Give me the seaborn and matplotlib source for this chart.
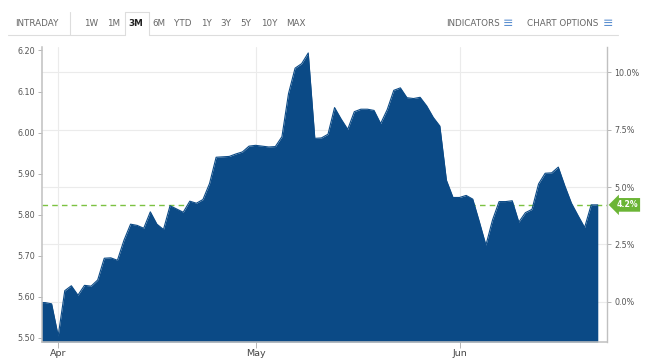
import pandas as pd
import matplotlib
matplotlib.use('Agg')
import matplotlib.pyplot as plt
import matplotlib.dates as mdates
import matplotlib.transforms as mtransforms
from matplotlib.lines import Line2D
import seaborn as sns


# Daily closing values (29 Mar .. 22 Jun)
start_date = '2016-03-29'
end_date = '2016-06-22'
prices = [
    5.586, 5.586, 5.583,
    # April
    5.505, 5.615, 5.627, 5.604, 5.628, 5.626, 5.641, 5.694, 5.695, 5.689,
    5.738, 5.777, 5.774, 5.767, 5.807, 5.777, 5.764, 5.822, 5.814, 5.806,
    5.833, 5.828, 5.837, 5.876, 5.940, 5.941, 5.942, 5.948, 5.953, 5.967,
    # May
    5.969, 5.967, 5.965, 5.966, 5.990, 6.095, 6.157, 6.168, 6.194, 5.986,
    5.987, 5.996, 6.061, 6.033, 6.008, 6.051, 6.057, 6.057, 6.054, 6.022,
    6.056, 6.103, 6.109, 6.085, 6.083, 6.086, 6.065, 6.037, 6.016, 5.884,
    5.842,
    # June
    5.842, 5.847, 5.838, 5.783, 5.726, 5.787, 5.832, 5.832, 5.834, 5.782,
    5.805, 5.813, 5.875, 5.901, 5.902, 5.916, 5.870, 5.828, 5.798, 5.769,
    5.824, 5.824,
]
base_price = 5.588  # value that maps to 0.0% on the right axis
price_ticks = [5.50, 5.60, 5.70, 5.80, 5.90, 6.00, 6.10, 6.20]
pct_ticks = [0.0, 2.5, 5.0, 7.5, 10.0]
range_buttons = ['1W', '1M', '3M', '6M', 'YTD', '1Y', '3Y', '5Y', '10Y', 'MAX']
active_button = '3M'

df = pd.DataFrame({'date': pd.date_range(start_date, end_date, freq='D'),
                   'price': prices})


def to_pct(p):
    return (p / base_price - 1) * 100


sns.set_style('white')
plt.rcParams['font.family'] = ['DejaVu Sans']

fig = plt.figure(figsize=(6.5, 3.6), dpi=100)
fig.patch.set_facecolor('white')
ax = fig.add_axes([0.064, 0.05, 0.870, 0.820])
ax2 = ax.twinx()
ax.set_zorder(ax2.get_zorder() + 1)
ax.patch.set_visible(False)
ax2.patch.set_facecolor('white')

blue = '#0b4a86'
green = '#7cc242'
ymin, ymax = 5.49, 6.209

ax.fill_between(df['date'], df['price'], ymin, color=blue, lw=0, zorder=2)
sns.lineplot(data=df, x='date', y='price', ax=ax, color=blue, lw=0.8, zorder=2.1)

last = prices[-1]
ax.axhline(last, ls=(0, (4, 3)), color=green, lw=1.0, zorder=0.8)

ax.set_xlim(pd.Timestamp(start_date) + pd.Timedelta(hours=11.5),
            pd.Timestamp(end_date) + pd.Timedelta(hours=34))
ax.set_ylim(ymin, ymax)
ax.set_yticks(price_ticks)
ax.set_yticklabels([f'{t:.2f}' for t in price_ticks])
ax.xaxis.set_major_locator(mdates.MonthLocator())
ax.xaxis.set_major_formatter(mdates.DateFormatter('%b'))
ax.set_xlabel('')
ax.set_ylabel('')
ax.set_axisbelow(True)
ax.grid(axis='x', color='#ebebeb', lw=0.8)
ax.grid(axis='y', visible=False)

ax2.set_ylim(to_pct(ymin), to_pct(ymax))
ax2.set_yticks(pct_ticks)
ax2.set_yticklabels([f'{t:.1f}%' for t in pct_ticks])
ax2.grid(axis='y', color='#ebebeb', lw=0.8)
ax2.grid(axis='x', visible=False)

for s in ['top', 'right']:
    ax.spines[s].set_visible(False)
for s in ['left', 'bottom']:
    ax.spines[s].set_color('#c0c0c0')
    ax.spines[s].set_linewidth(1.1)
for s in ['top', 'left', 'bottom']:
    ax2.spines[s].set_visible(False)
ax2.spines['right'].set_color('#c0c0c0')
ax2.spines['right'].set_linewidth(1.0)

ax.tick_params(axis='y', left=True, length=3, width=0.6, color='#aaaaaa',
               labelsize=5.8, labelcolor='#555555', pad=2)
ax.tick_params(axis='x', bottom=True, length=4, width=0.6, color='#aaaaaa',
               labelsize=6.8, labelcolor='#444444', pad=1)
ax2.tick_params(axis='y', right=True, length=3, width=0.6, color='#aaaaaa',
                labelsize=5.8, labelcolor='#555555', pad=2)

# tag for the latest change
pct_last = to_pct(last)
trans = mtransforms.blended_transform_factory(ax2.transAxes, ax2.transData)
ax2.text(1.016, pct_last, f'{pct_last:.1f}%', transform=trans, ha='left',
         va='center', fontsize=5.6, fontweight='bold', color='white',
         bbox=dict(boxstyle='larrow,pad=0.3', fc='#6bb535', ec='none'),
         clip_on=False, zorder=5)

# header bar with range buttons
W, H = 650.0, 360.0
hy = 1 - 23 / H
fig.text(15 / W, hy, 'INTRADAY', fontsize=6.3, color='#666666', va='center', ha='left')
button_x = [91, 114, 136, 159, 183, 206, 226, 246, 269, 296]
for label, bx in zip(range_buttons, button_x):
    fig.text(bx / W, hy, label, fontsize=6.3, va='center', ha='center',
             color='#222222' if label == active_button else '#666666',
             fontweight='bold' if label == active_button else 'normal')
fig.text(500 / W, hy, 'INDICATORS', fontsize=6.3, color='#666666', va='center', ha='right')
fig.text(503 / W, hy, '\u2261', fontsize=9, color='#5b8fd0', va='center', ha='left')
fig.text(598 / W, hy, 'CHART OPTIONS', fontsize=6.3, color='#666666', va='center', ha='right')
fig.text(603 / W, hy, '\u2261', fontsize=9, color='#5b8fd0', va='center', ha='left')

line_c = '#dddddd'
fig.add_artist(Line2D([8 / W, 125 / W], [1 - 35 / H] * 2, color=line_c, lw=0.8))
fig.add_artist(Line2D([149 / W, 618 / W], [1 - 35 / H] * 2, color=line_c, lw=0.8))
fig.add_artist(Line2D([70 / W, 70 / W], [1 - 12 / H, 1 - 35 / H], color=line_c, lw=0.8))
fig.add_artist(Line2D([125 / W, 125 / W, 149 / W, 149 / W],
                      [1 - 35 / H, 1 - 12 / H, 1 - 12 / H, 1 - 35 / H], color=line_c, lw=0.8))

plt.savefig('out.png', dpi=100, facecolor='white')
